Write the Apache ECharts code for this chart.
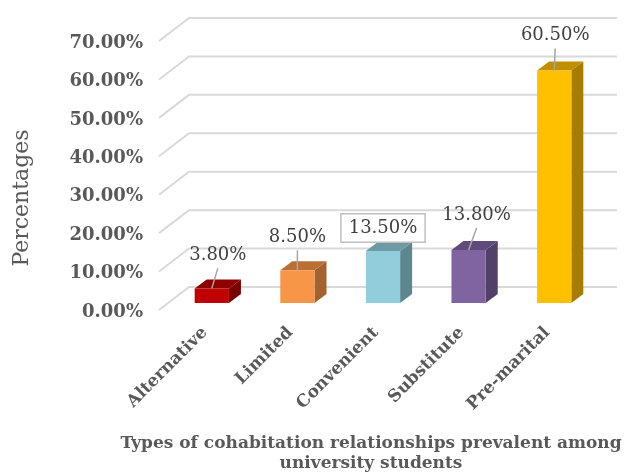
<!DOCTYPE html>
<html>
<head>
<meta charset="utf-8">
<script src="https://cdn.jsdelivr.net/npm/echarts@6/dist/echarts.min.js"></script>
<style>
  html, body { margin: 0; padding: 0; background: #ffffff; }
  #chart { width: 638px; height: 474px; }
</style>
</head>
<body>
<div id="chart"></div>
<script>
// Cohabitation relationship types and their share of respondents (%)
const categories = ['Alternative', 'Limited', 'Convenient', 'Substitute', 'Pre-marital'];
const shares = [3.8, 8.5, 13.5, 13.8, 60.5];
const yTicks = [0, 10, 20, 30, 40, 50, 60, 70];
const yTickLabels = yTicks.map(v => v.toFixed(2) + '%');

// Face colours of each 3D column: front, top, side
const frontColors = ['#C00000', '#F79646', '#92CDDC', '#8064A2', '#FFC000'];
const topColors   = ['#8E0000', '#BA7034', '#6C9BA6', '#5F4A7A', '#BF9000'];
const sideColors  = ['#780000', '#A3622E', '#5E8690', '#524068', '#A67D00'];

// Perspective offsets (px) relative to the plane the columns stand on
const BACK = [20, -16];   // back wall
const FRONT = [-10, 7];   // front edge of the floor
const DEPTH = [12, -9];   // column depth
// Label nudges above each column top [dx, dy]
const labelNudge = [[6, -33], [0, -33], [0, -23], [8, -35], [1, -35]];
const boxed = [false, false, true, false, false];

const FONT = '"DejaVu Serif", serif';
const chart = echarts.init(document.getElementById('chart'));

chart.setOption({
  backgroundColor: '#ffffff',
  animation: false,
  grid: { left: 169, right: 41, top: 34, bottom: 171 },
  xAxis: {
    type: 'category',
    data: categories,
    axisLine: { show: false },
    axisTick: { show: false },
    axisLabel: {
      rotate: 45,
      margin: 20,
      padding: [0, 10, 0, 0],
      color: '#595959',
      fontFamily: FONT,
      fontWeight: 'bold',
      fontSize: 17
    }
  },
  yAxis: {
    type: 'value',
    min: 0,
    max: 70,
    interval: 10,
    axisLine: { show: false },
    axisTick: { show: false },
    splitLine: { show: false },
    axisLabel: { show: false }
  },
  graphic: [
    {
      type: 'text',
      x: 22, y: 198,
      rotation: Math.PI / 2,
      style: {
        text: 'Percentages',
        fill: '#595959',
        font: '22px ' + FONT,
        align: 'center',
        verticalAlign: 'middle'
      }
    },
    {
      type: 'text',
      x: 371, y: 454,
      style: {
        text: 'Types of cohabitation relationships prevalent among\nuniversity students',
        fill: '#595959',
        font: 'bold 17px ' + FONT,
        align: 'center',
        verticalAlign: 'middle',
        lineHeight: 20
      }
    }
  ],
  series: [
    {
      // Floor/back-wall gridlines with their value labels on the front edge
      type: 'custom',
      z: 1,
      silent: true,
      data: yTicks.map(v => [0, v]),
      encode: { x: 0, y: 1 },
      renderItem: function (params, api) {
        const cs = params.coordSys;
        const y = api.coord([0, api.value(1)])[1];
        return {
          type: 'group',
          children: [
            {
              type: 'polyline',
              shape: {
                points: [
                  [cs.x + FRONT[0], y + FRONT[1]],
                  [cs.x + BACK[0], y + BACK[1]],
                  [cs.x + cs.width + BACK[0], y + BACK[1]]
                ]
              },
              style: { stroke: '#d9d9d9', lineWidth: 2, fill: null }
            },
            {
              type: 'text',
              style: {
                text: yTickLabels[params.dataIndex],
                x: cs.x + FRONT[0] - 16,
                y: y + FRONT[1] + 2,
                fill: '#595959',
                font: 'bold 18px ' + FONT,
                align: 'right',
                verticalAlign: 'middle'
              }
            }
          ]
        };
      }
    },
    {
      // 3D columns with value labels
      type: 'custom',
      z: 2,
      data: shares.map((v, i) => [i, v]),
      encode: { x: 0, y: 1 },
      renderItem: function (params, api) {
        const i = params.dataIndex;
        const val = api.value(1);
        const top = api.coord([api.value(0), val]);
        const base = api.coord([api.value(0), 0]);
        const w = api.size([1, 0])[0] * 0.4;
        const x0 = top[0] - w / 2, x1 = top[0] + w / 2;
        const ty = top[1], by = base[1];
        const lx = top[0] + labelNudge[i][0];
        const ly = ty + labelNudge[i][1];
        const children = [
          {
            type: 'polygon',
            shape: { points: [[x1, ty], [x1 + DEPTH[0], ty + DEPTH[1]], [x1 + DEPTH[0], by + DEPTH[1]], [x1, by]] },
            style: { fill: sideColors[i] }
          },
          {
            type: 'polygon',
            shape: { points: [[x0, ty], [x1, ty], [x1 + DEPTH[0], ty + DEPTH[1]], [x0 + DEPTH[0], ty + DEPTH[1]]] },
            style: { fill: topColors[i] }
          },
          {
            type: 'rect',
            shape: { x: x0, y: ty, width: w, height: by - ty },
            style: { fill: frontColors[i] }
          }
        ];
        if (!boxed[i]) {
          children.push({
            type: 'line',
            shape: { x1: lx, y1: ly + 13, x2: top[0], y2: ty },
            style: { stroke: '#a6a6a6', lineWidth: 1.5 }
          });
        }
        const labelStyle = {
          text: val.toFixed(2) + '%',
          x: lx, y: ly,
          fill: '#404040',
          font: '18px ' + FONT,
          align: 'center',
          verticalAlign: 'middle'
        };
        if (boxed[i]) {
          Object.assign(labelStyle, {
            backgroundColor: '#ffffff',
            borderColor: '#bfbfbf',
            borderWidth: 1.5,
            padding: [5, 7, 4, 7]
          });
        }
        children.push({ type: 'text', style: labelStyle });
        return { type: 'group', children: children };
      }
    }
  ]
});
</script>
</body>
</html>
